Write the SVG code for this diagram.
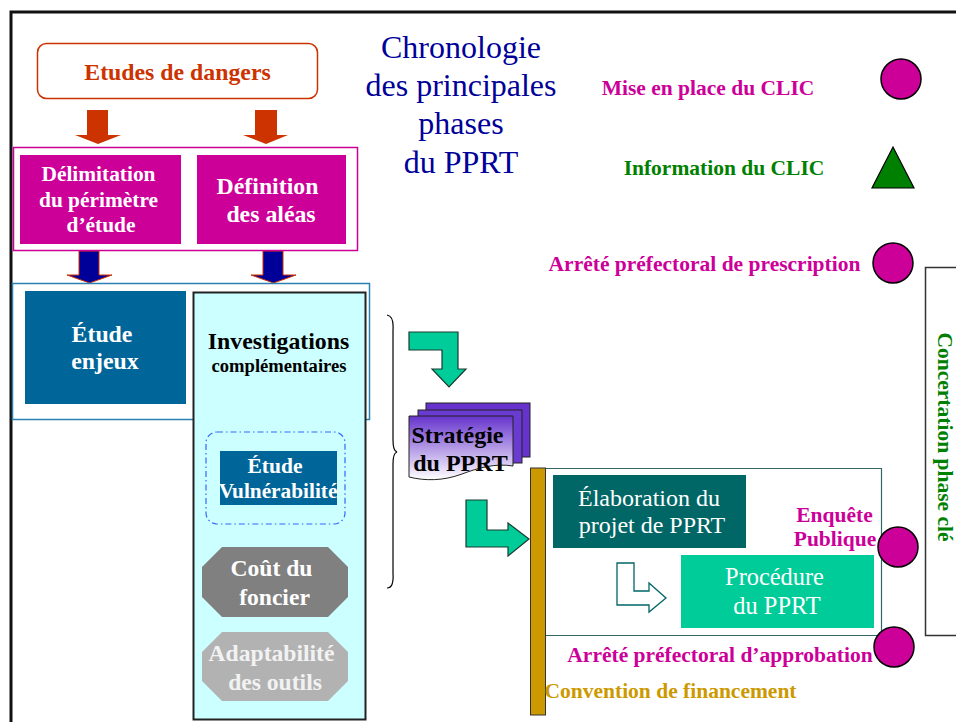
<svg xmlns="http://www.w3.org/2000/svg" width="956" height="722" viewBox="0 0 956 722">
<style>
text{font-family:"Liberation Serif","Times New Roman",serif;}
.b{font-weight:bold;}
.w{fill:#ffffff;}
.mag{fill:#cc0099;}
.lbl{font-size:21.5px;font-weight:bold;}
.dot{fill:#cc0099;stroke:#000;stroke-width:1.5;}
.grn{fill:#00cc99;stroke:#1a3a30;stroke-width:1.2;}
</style>
<defs>
<linearGradient id="pg" x1="0" y1="0" x2="0" y2="1">
<stop offset="0" stop-color="#6633cc"/>
<stop offset="1" stop-color="#ffffff"/>
</linearGradient>
</defs>
<rect x="0" y="0" width="956" height="722" fill="#fff"/>
<path d="M11,740 V12 H970" fill="none" stroke="#111" stroke-width="3"/>

<g id="title">
<text x="461" y="58" font-size="32" text-anchor="middle" fill="#000099">Chronologie</text>
<text x="461" y="96" font-size="32" text-anchor="middle" fill="#000099">des principales</text>
<text x="461" y="134" font-size="32" text-anchor="middle" fill="#000099">phases</text>
<text x="461" y="173" font-size="32" text-anchor="middle" fill="#000099">du PPRT</text>
</g>

<g id="etudes-dangers">
<rect x="37.5" y="43.5" width="280" height="55" rx="9" fill="#fff" stroke="#cc3300" stroke-width="1.5"/>
<text x="177.5" y="80" font-size="23.8" class="b" text-anchor="middle" fill="#cc3300">Etudes de dangers</text>
</g>

<g id="connectors">
<path d="M87,110 H108 V135 H121 L98,144 L75,135 H87 Z" fill="#cc3300"/>
<path d="M255,110 H277 V135 H288 L266,144 L243,135 H255 Z" fill="#cc3300"/>
<path d="M79,251 H99 V275 H112 L89.5,283 L67,275 H79 Z" fill="#000099" stroke="#cc3300" stroke-width="1"/>
<path d="M263,251 H283 V275 H296 L273.5,283 L251,275 H263 Z" fill="#000099" stroke="#cc3300" stroke-width="1"/>
<path d="M409,332 H458 V369 H466 L449,387 L432,369 H442 V350 H409 Z" class="grn"/>
<path d="M466,500 H487 V530 H508 V523 L529,539 L508,556 V547 H466 Z" class="grn"/>
<path d="M617,563 H634 V591 H649 V583 L666,598 L649,612 V605 H617 Z" fill="#fff" stroke="#006666" stroke-width="1.3"/>
<path d="M387,315 Q394,316 393,330 V440 Q393,451 397,452 Q393,453 393,464 V574 Q394,588 387,588" fill="none" stroke="#000" stroke-width="1.2"/>
</g>

<g id="delimitation-group">
<rect x="13.5" y="147.5" width="344" height="103" fill="#fff" stroke="#cc0099" stroke-width="1.5"/>
</g>
<g id="delimitation">
<rect x="20" y="155" width="161" height="89" fill="#cc0099"/>
<text x="98.5" y="181" font-size="21.4" class="b w" text-anchor="middle">Délimitation</text>
<text x="98.5" y="207" font-size="21.4" class="b w" text-anchor="middle">du périmètre</text>
<text x="101" y="232" font-size="21.4" class="b w" text-anchor="middle">d’étude</text>
</g>
<g id="definition-aleas">
<rect x="197" y="155" width="149" height="89" fill="#cc0099"/>
<text x="267.5" y="194" font-size="23.8" class="b w" text-anchor="middle">Définition</text>
<text x="271" y="222" font-size="23.8" class="b w" text-anchor="middle">des aléas</text>
</g>

<g id="enjeux-group">
<rect x="12.5" y="283.5" width="357" height="136" fill="#fff" stroke="#2a80b0" stroke-width="1.5"/>
</g>
<g id="etude-enjeux">
<rect x="25" y="291" width="161" height="113" fill="#006699"/>
<text x="102" y="342" font-size="23.8" class="b w" text-anchor="middle">Étude</text>
<text x="105" y="369" font-size="23.8" class="b w" text-anchor="middle">enjeux</text>
</g>

<g id="investigations">
<rect x="193.5" y="292.5" width="172" height="427" fill="#ccffff" stroke="#222" stroke-width="2"/>
<text x="278.5" y="349" font-size="23.8" class="b" text-anchor="middle" fill="#000">Investigations</text>
<text x="279" y="372" font-size="18.6" class="b" text-anchor="middle" fill="#000">complémentaires</text>
</g>
<g id="etude-vulnerabilite">
<rect x="206" y="432" width="139" height="92" rx="11" fill="none" stroke="#3366ff" stroke-width="1.2" stroke-dasharray="6,3,1.5,3"/>
<rect x="220" y="451" width="117" height="54" fill="#006699"/>
<text x="275" y="473" font-size="21.5" class="b w" text-anchor="middle">Étude</text>
<text x="278" y="498" font-size="21.3" class="b w" text-anchor="middle">Vulnérabilité</text>
</g>
<g id="cout-foncier">
<path d="M222,547 H328 L348,567 V597 L328,617 H222 L202,597 V567 Z" fill="#808080"/>
<text x="271.5" y="576" font-size="23.6" class="b w" text-anchor="middle">Coût du</text>
<text x="274.5" y="605" font-size="23.6" class="b w" text-anchor="middle">foncier</text>
</g>
<g id="adaptabilite">
<path d="M222,632 H328 L348,652 V681 L328,701 H222 L202,681 V652 Z" fill="#b2b2b2"/>
<text x="271.5" y="661" font-size="23.6" class="b" fill="#f2f2f2" text-anchor="middle">Adaptabilité</text>
<text x="275" y="690" font-size="23.6" class="b" fill="#f2f2f2" text-anchor="middle">des outils</text>
</g>

<g id="strategie">
<rect x="426" y="403" width="104" height="54" fill="#6633cc" stroke="#222" stroke-width="1"/>
<rect x="418" y="410" width="104" height="53" fill="#6a3bd0" stroke="#222" stroke-width="1"/>
<path d="M409,416 H513 V466 C495,463 478,468 462,474 C443,481 425,481 409,477 Z" fill="url(#pg)" stroke="#222" stroke-width="1"/>
<text x="457.5" y="443" font-size="24" class="b" text-anchor="middle" fill="#000">Stratégie</text>
<text x="460.5" y="471" font-size="24" class="b" text-anchor="middle" fill="#000">du PPRT</text>
</g>

<g id="procedure-frame">
<path d="M546,468.5 H881.5 V635.5 H546" fill="none" stroke="#336666" stroke-width="1.2"/>
</g>
<g id="convention-bar">
<rect x="530.5" y="468" width="15" height="247" fill="#cc9900" stroke="#333" stroke-width="1"/>
</g>
<g id="elaboration">
<rect x="553" y="475" width="193" height="73" fill="#006666"/>
<text x="649" y="506" font-size="24" class="w" text-anchor="middle">Élaboration du</text>
<text x="652" y="533" font-size="24" class="w" text-anchor="middle">projet de PPRT</text>
</g>
<g id="procedure">
<rect x="681" y="555" width="193" height="73" fill="#00cc99"/>
<text x="774.5" y="585" font-size="24.4" class="w" text-anchor="middle">Procédure</text>
<text x="777" y="614" font-size="24.4" class="w" text-anchor="middle">du PPRT</text>
</g>

<g id="mise-en-place-clic">
<text x="708" y="95" class="lbl mag" text-anchor="middle">Mise en place du CLIC</text>
<ellipse cx="901" cy="79" rx="20" ry="20" class="dot"/>
</g>
<g id="information-clic">
<text x="724" y="175" class="lbl" fill="#008000" text-anchor="middle">Information du CLIC</text>
<path d="M893,147 L914,188 L872,188 Z" fill="#008000" stroke="#000" stroke-width="1.2"/>
</g>
<g id="arrete-prescription">
<text x="704.5" y="271" class="lbl mag" text-anchor="middle">Arrêté préfectoral de prescription</text>
<ellipse cx="893" cy="263" rx="20" ry="20" class="dot"/>
</g>
<g id="enquete-publique">
<text x="834.5" y="522" class="lbl mag" text-anchor="middle">Enquête</text>
<text x="835" y="546" class="lbl mag" text-anchor="middle">Publique</text>
<ellipse cx="898" cy="547" rx="20" ry="20" class="dot"/>
</g>
<g id="arrete-approbation">
<text x="720" y="662" class="lbl mag" text-anchor="middle">Arrêté préfectoral d’approbation</text>
<ellipse cx="894" cy="647" rx="20" ry="20" class="dot"/>
</g>
<g id="convention-financement">
<text x="670.5" y="698" class="lbl" fill="#cc9900" text-anchor="middle">Convention de financement</text>
</g>
<g id="concertation">
<path d="M960,267.5 H925.5 V635.5 H960" fill="none" stroke="#333" stroke-width="1.5"/>
<text transform="translate(937.5,437) rotate(90)" class="lbl" fill="#008000" text-anchor="middle">Concertation phase clé</text>
</g>
</svg>
